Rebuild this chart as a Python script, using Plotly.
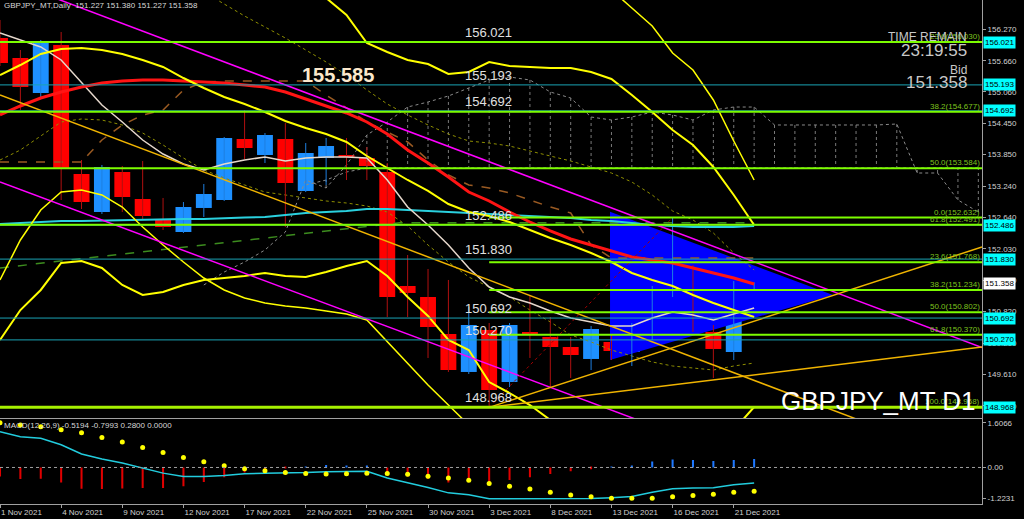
import plotly.graph_objects as go

# ---------------- DATA ----------------
dates = ["1 Nov 2021", "2 Nov 2021", "3 Nov 2021", "4 Nov 2021", "5 Nov 2021", "8 Nov 2021",
         "9 Nov 2021", "10 Nov 2021", "11 Nov 2021", "12 Nov 2021", "15 Nov 2021", "16 Nov 2021",
         "17 Nov 2021", "18 Nov 2021", "19 Nov 2021", "22 Nov 2021", "23 Nov 2021", "24 Nov 2021",
         "25 Nov 2021", "26 Nov 2021", "29 Nov 2021", "30 Nov 2021", "1 Dec 2021", "2 Dec 2021",
         "3 Dec 2021", "6 Dec 2021", "7 Dec 2021", "8 Dec 2021", "9 Dec 2021", "10 Dec 2021",
         "13 Dec 2021", "14 Dec 2021", "15 Dec 2021", "16 Dec 2021", "17 Dec 2021", "20 Dec 2021",
         "21 Dec 2021", "22 Dec 2021"]

open_ = [156.098, 155.712, 155.037, 155.963, 153.473, 152.739, 153.512, 152.990, 152.604, 152.353,
         152.817, 152.971, 154.149, 153.840, 154.149, 153.145, 153.782, 153.840, 153.782, 153.512,
         151.311, 151.098, 150.384, 149.651, 150.461, 149.457, 150.423, 150.326, 150.133, 149.902,
         150.230, 150.037, 150.403, 151.137, 151.388, 150.423, 150.037, 151.227]
high = [156.446, 155.867, 156.060, 156.214, 153.743, 153.647, 153.627, 153.724, 153.010, 152.932,
        153.280, 154.187, 154.708, 154.264, 154.457, 154.071, 154.168, 154.168, 153.994, 153.685,
        151.909, 151.639, 151.427, 150.905, 150.596, 150.596, 151.137, 150.712, 150.326, 150.539,
        150.365, 150.596, 151.311, 152.632, 151.716, 150.558, 151.407, 151.380]
low = [155.558, 154.708, 154.940, 152.971, 152.797, 152.701, 152.739, 152.585, 152.392, 152.334,
       152.643, 152.952, 153.763, 153.685, 152.450, 153.125, 153.261, 153.357, 153.357, 150.712,
       150.712, 149.921, 149.651, 149.612, 148.968, 149.361, 149.921, 149.361, 149.535, 149.689,
       149.882, 149.766, 150.268, 151.098, 150.423, 149.535, 149.882, 151.227]
close = [155.616, 155.152, 156.021, 153.569, 152.932, 153.608, 153.029, 152.662, 152.450, 152.836,
         153.087, 154.168, 153.975, 154.226, 153.299, 153.878, 154.013, 153.801, 153.627, 151.098,
         151.176, 150.519, 149.689, 150.558, 149.303, 150.558, 150.384, 150.133, 149.979, 150.481,
         150.056, 150.481, 151.272, 151.485, 150.519, 150.095, 151.369, 151.358]

red_ma = [154.612, 154.786, 154.940, 155.056, 155.152, 155.230, 155.268, 155.288, 155.288, 155.268,
          155.249, 155.230, 155.191, 155.152, 155.056, 154.921, 154.786, 154.651, 154.477, 154.245,
          153.936, 153.685, 153.415, 153.125, 152.952, 152.739, 152.546, 152.373, 152.218, 152.102,
          151.986, 151.871, 151.813, 151.755, 151.658, 151.562, 151.465, 151.349]
white_ma = [156.195, 156.060, 155.925, 155.674, 155.249, 154.805, 154.477, 154.129, 153.859, 153.666,
            153.550, 153.666, 153.743, 153.801, 153.724, 153.782, 153.801, 153.801, 153.782, 153.357,
            152.836, 152.488, 152.102, 151.658, 151.291, 151.098, 150.983, 150.828, 150.693, 150.616,
            150.539, 150.539, 150.693, 150.809, 150.751, 150.654, 150.770, 150.886]
cyan_ma = [152.508, 152.527, 152.546, 152.566, 152.566, 152.575, 152.585, 152.585, 152.595, 152.604,
           152.604, 152.624, 152.633, 152.643, 152.681, 152.720, 152.739, 152.759, 152.797, 152.797,
           152.778, 152.759, 152.739, 152.720, 152.701, 152.681, 152.662, 152.643, 152.624, 152.585,
           152.566, 152.527, 152.488, 152.469, 152.450, 152.450, 152.450, 152.469]
yellow_mid = [155.384, 155.577, 155.790, 155.886, 155.905, 155.867, 155.790, 155.674, 155.539, 155.326,
              155.133, 154.959, 154.824, 154.670, 154.496, 154.361, 154.245, 154.091, 153.820, 153.589,
              153.357, 153.145, 152.894, 152.739, 152.662, 152.546, 152.392, 152.237, 152.102, 151.948,
              151.774, 151.562, 151.427, 151.311, 151.137, 150.983, 150.847, 150.712]
yellow_up = [157.797, 157.894, 157.990, 158.029, 157.990, 157.894, 157.797, 157.701, 157.604, 157.566,
             157.527, 157.488, 157.411, 157.315, 157.179, 157.025, 156.871, 156.542, 156.002, 155.828,
             155.674, 155.596, 155.403, 155.442, 155.635, 155.558, 155.539, 155.519, 155.519, 155.442,
             155.307, 154.998, 154.670, 154.322, 154.033, 153.608, 153.068, 152.488]
yellow_low1 = [151.427, 152.199, 152.778, 153.125, 153.164, 153.068, 152.836, 152.450, 152.102, 151.774,
               151.465, 151.234, 151.079, 150.983, 150.925, 150.886, 150.828, 150.770, 150.654, 150.230,
               149.824, 149.400, 149.013, 148.627, 148.340, 148.250, 148.200, 148.200, 148.200, 148.250,
               148.300, 148.350, 148.400, 148.450, 148.500, 148.550, 148.600, 148.650]
yellow_low2 = [150.268, 150.847, 151.234, 151.755, 151.793, 151.658, 151.330, 151.137, 151.195, 151.330,
               151.427, 151.465, 151.504, 151.562, 151.504, 151.485, 151.581, 151.697, 151.793, 151.504,
               151.098, 150.732, 150.268, 150.075, 149.457, 149.245, 149.013, 148.724, 148.550, 148.450,
               148.400, 148.380, 148.380, 148.400, 148.450, 148.500, 148.531, 148.975]
thin_yellow_start = 29
thin_yellow = [157.411, 157.025, 156.678, 156.330, 155.809, 155.481, 154.902, 154.110, 153.357]
olive_up_start = 10
olive_up = [156.986, 156.755, 156.523, 156.311, 156.098, 155.867, 155.635, 155.384, 155.095, 154.824,
            154.612, 154.419, 154.245, 154.110, 154.071, 154.013, 153.917, 153.820, 153.724, 153.608,
            153.492, 153.318, 153.068, 152.759, 152.585, 152.334, 151.948, 151.620]
olive_low = [153.743, 153.936, 154.207, 154.477, 154.535, 154.515, 154.419, 154.264, 154.033, 153.782,
             153.550, 153.396, 153.261, 153.125, 153.068, 153.010, 152.952, 152.913, 152.855, 152.739,
             152.469, 152.102, 151.774, 151.485, 151.291, 151.098, 150.847, 150.616, 150.365, 150.230,
             150.075, 149.959, 149.844, 149.766, 149.728, 149.689, 149.766, 149.824]
kijun = [153.705, 153.705, 153.705, 153.705, 153.705, 154.129, 154.419, 154.612, 154.708, 155.095,
         155.249, 155.268, 155.268, 155.268, 155.268, 155.268, 154.998, 154.747, 154.477, 154.284,
         154.091, 153.743, 153.454, 153.261, 153.203, 153.106, 152.971, 152.836, 152.720, 152.102,
         151.851, 151.851, 151.851, 151.851, 151.851, 151.851, 151.851, 151.851]
span_a_start = 10
span_a = [151.330, 151.581, 151.774, 152.006, 152.353, 153.357, 153.203, 153.647, 154.226, 154.477,
          154.766, 154.863, 154.979, 155.133, 155.288, 155.346, 155.288, 155.056, 154.940, 154.573,
          154.515, 154.573, 154.670, 154.612, 154.515, 154.708, 154.766, 154.766, 154.419, 154.419,
          154.419, 154.419, 154.419, 154.419, 154.438, 153.492, 153.492, 152.971, 152.739]
span_b_start = 15
span_b = [153.261, 153.357, 153.511, 153.589, 153.589, 153.589, 153.589, 153.589, 153.589, 153.589,
          153.589, 153.589, 153.589, 153.589, 153.589, 153.589, 153.589, 153.589, 153.589, 153.589,
          153.589, 153.589, 153.589, 153.589, 153.589, 153.589, 153.589, 153.589, 153.589, 153.589,
          153.589, 153.589, 153.589, 153.589]

# trend lines (bar index, price)
magenta_hi_x, magenta_hi_p = [0, 48.18], [157.27, 150.12]
magenta_lo_x, magenta_lo_p = [0, 33], [153.318, 148.474]
gold1_x, gold1_p = [0, 42.5], [155.00, 148.67]
gold2_x, gold2_p = [24, 48.18], [148.968, 152.064]
gold3_x, gold3_p = [24, 48.18], [148.968, 150.133]
fib_diag_x, fib_diag_p = [24, 33], [148.968, 152.632]
green_dash_x, green_dash_p = [0, 19.6, 37], [151.66, 152.53, 152.53]
triangle_x, triangle_p = [29.93, 29.93, 40.87], [152.745, 149.882, 151.137]

# horizontal levels
green_full = [156.021, 154.677, 153.584, 152.491]
green_thick = 148.968
fib_start = 24
fib_partial = [152.632, 151.768, 151.234, 150.802, 150.370]
teal_levels = [155.193, 154.692, 152.486, 151.830, 150.692, 150.270]
fib_labels = [("23.6(156.030)", 156.030), ("38.2(154.677)", 154.677), ("50.0(153.584)", 153.584),
              ("0.0(152.632)", 152.632), ("61.8(152.491)", 152.491), ("23.6(151.768)", 151.768),
              ("38.2(151.234)", 151.234), ("50.0(150.802)", 150.802), ("61.8(150.370)", 150.370),
              ("100.0(148.968)", 148.968)]
line_labels = [156.021, 155.193, 154.692, 152.486, 151.830, 150.692, 150.270, 148.968]
bid_price = 151.358
high_mark = 155.585

price_ticks = [156.270, 155.660, 155.060, 154.450, 153.850, 153.240, 152.640, 152.030,
               151.420, 150.820, 150.210, 149.610, 149.000]

# MACD panel
macd = [1.20, 1.03, 0.98, 0.76, 0.45, 0.28, 0.15, -0.02, -0.19, -0.30, -0.30, -0.27, -0.21, -0.19,
        -0.19, -0.17, -0.14, -0.14, -0.13, -0.35, -0.50, -0.67, -0.85, -0.91, -1.05, -1.05, -1.05,
        -1.05, -1.05, -1.04, -1.01, -0.97, -0.83, -0.71, -0.69, -0.68, -0.58, -0.5194]
signal = [1.50, 1.42, 1.36, 1.26, 1.16, 1.00, 0.85, 0.67, 0.50, 0.33, 0.19, 0.06, -0.04, -0.11,
          -0.17, -0.20, -0.22, -0.21, -0.19, -0.20, -0.23, -0.29, -0.35, -0.43, -0.54, -0.63, -0.72,
          -0.83, -0.92, -0.98, -1.03, -1.03, -1.03, -0.98, -0.94, -0.90, -0.83, -0.7993]
hist = [-0.30, -0.39, -0.38, -0.50, -0.71, -0.72, -0.70, -0.69, -0.69, -0.63, -0.49, -0.33, -0.17,
        -0.08, -0.02, 0.03, 0.08, 0.07, 0.06, -0.18, -0.30, -0.38, -0.50, -0.48, -0.51, -0.42, -0.33,
        -0.22, -0.13, -0.06, 0.02, 0.06, 0.20, 0.27, 0.25, 0.22, 0.25, 0.28]
macd_range = [-1.2231, 1.6066]
macd_tick_pos = [1.49, 0.0, -1.04]
macd_tick_text = ["1.6066", "0.00", "-1.2231"]

# ---------------- FIGURE ----------------
FONT = "Liberation Sans"
X_RANGE = [0, 48.18]
Y_RANGE = [148.762, 156.832]
n = len(dates)
xs = list(range(n))

fig = go.Figure()

def line(x, y, color, width, dash="solid", xa="x", ya="y"):
    fig.add_trace(go.Scatter(x=x, y=y, mode="lines", xaxis=xa, yaxis=ya,
                             line=dict(color=color, width=width, dash=dash),
                             hoverinfo="skip", showlegend=False))

# blue triangle
fig.add_trace(go.Scatter(x=triangle_x, y=triangle_p, fill="toself", mode="lines",
                         fillcolor="#0000FF", line=dict(width=0, color="#0000FF"),
                         hoverinfo="skip", showlegend=False))

# Ichimoku cloud
sa_x = [span_a_start + i for i in range(len(span_a))]
sb_x = [span_b_start + i for i in range(len(span_b))]
hx, hy = [], []
for i, b in enumerate(span_b):
    xi = span_b_start + i
    a = span_a[xi - span_a_start]
    hx += [xi, xi, None]
    hy += [a, b, None]
line(hx, hy, "#7A7A7A", 1, "dot")
line(sa_x, span_a, "#8A8A8A", 1, "dot")
line(sb_x, span_b, "#8A8A8A", 1, "dot")

# olive dotted bands
line([olive_up_start + i for i in range(len(olive_up))], olive_up, "#8F8F00", 1, "dot")
line(xs, olive_low, "#8F8F00", 1, "dot")

# dashed lines
line(xs, kijun, "#9A5A22", 1.5, "dash")
line(green_dash_x, green_dash_p, "#3C8C1E", 1.5, "dash")

# candles
wick_bull_x, wick_bull_y, wick_bear_x, wick_bear_y = [], [], [], []
bull_x, bull_base, bull_h, bear_x, bear_base, bear_h = [], [], [], [], [], []
for i in xs:
    if close[i] >= open_[i]:
        wick_bull_x += [i, i, None]; wick_bull_y += [low[i], high[i], None]
        bull_x.append(i); bull_base.append(open_[i]); bull_h.append(max(close[i] - open_[i], 0.02))
    else:
        wick_bear_x += [i, i, None]; wick_bear_y += [low[i], high[i], None]
        bear_x.append(i); bear_base.append(close[i]); bear_h.append(max(open_[i] - close[i], 0.02))
line(wick_bull_x, wick_bull_y, "#1E7FE0", 1)
line(wick_bear_x, wick_bear_y, "#B01010", 1)
fig.add_trace(go.Bar(x=bull_x, y=bull_h, base=bull_base, width=0.78, marker=dict(color="#1E90FF", line=dict(width=0)),
                     hoverinfo="skip", showlegend=False))
fig.add_trace(go.Bar(x=bear_x, y=bear_h, base=bear_base, width=0.78, marker=dict(color="#FF0000", line=dict(width=0)),
                     hoverinfo="skip", showlegend=False))

# moving averages / bands
line(xs, cyan_ma, "#2AD0DE", 2)
line(xs, white_ma, "#E6D8CC", 1.5)
line(xs, red_ma, "#FF1414", 3)
line(xs, yellow_up, "#FFFF00", 2)
line(xs, yellow_mid, "#FFFF00", 2)
line(xs, yellow_low1, "#FFFF00", 1.5)
line(xs, yellow_low2, "#FFFF00", 2)
line([thin_yellow_start + i for i in range(len(thin_yellow))], thin_yellow, "#FFFF00", 1.5)

# trend lines
line(magenta_hi_x, magenta_hi_p, "#FF00FF", 1.5)
line(magenta_lo_x, magenta_lo_p, "#FF00FF", 1.5)
line(gold1_x, gold1_p, "#F0B400", 1.5)
line(gold2_x, gold2_p, "#F0B400", 1.5)
line(gold3_x, gold3_p, "#F0B400", 1.5)
line(fib_diag_x, fib_diag_p, "#A00000", 1, "dot")

# MACD panel
pos_x = [i for i in xs if hist[i] >= 0]
neg_x = [i for i in xs if hist[i] < 0]
fig.add_trace(go.Bar(x=pos_x, y=[hist[i] for i in pos_x], width=0.1, marker=dict(color="#1E78FF", line=dict(width=0)),
                     xaxis="x2", yaxis="y2", hoverinfo="skip", showlegend=False))
fig.add_trace(go.Bar(x=neg_x, y=[hist[i] for i in neg_x], width=0.1, marker=dict(color="#E00000", line=dict(width=0)),
                     xaxis="x2", yaxis="y2", hoverinfo="skip", showlegend=False))
line(xs, macd, "#22CCDD", 1.5, xa="x2", ya="y2")
fig.add_trace(go.Scatter(x=xs, y=signal, mode="markers", xaxis="x2", yaxis="y2",
                         marker=dict(color="#FFFF00", size=5), hoverinfo="skip", showlegend=False))

# ---------------- SHAPES ----------------
shapes = []
for lv in teal_levels:
    shapes.append(dict(type="line", xref="x domain", x0=0, x1=1, yref="y", y0=lv, y1=lv,
                       line=dict(color="#1AA3B4", width=1)))
for lv in green_full:
    shapes.append(dict(type="line", xref="x domain", x0=0, x1=1, yref="y", y0=lv, y1=lv,
                       line=dict(color="#7CFC00", width=2)))
for lv in fib_partial:
    shapes.append(dict(type="line", xref="x", x0=fib_start, x1=X_RANGE[1], yref="y", y0=lv, y1=lv,
                       line=dict(color="#7CFC00", width=2)))
shapes.append(dict(type="line", xref="x domain", x0=0, x1=1, yref="y", y0=green_thick, y1=green_thick,
                   line=dict(color="#A6F000", width=3)))
shapes.append(dict(type="line", xref="x2 domain", x0=0, x1=1, yref="y2", y0=0, y1=0,
                   line=dict(color="#A0A0A0", width=1, dash="dot")))

# ---------------- ANNOTATIONS ----------------
ann = []
for txt, lv in fib_labels:
    ann.append(dict(xref="paper", x=0.999, xanchor="right", yref="y", y=lv, yanchor="bottom",
                    text=txt, showarrow=False, font=dict(family=FONT, size=8, color="#7DC21E"),
                    borderpad=0))
for lv in line_labels:
    ann.append(dict(xref="x", x=22.72, xanchor="left", yref="y", y=lv, yanchor="bottom",
                    text=f"{lv:.3f}", showarrow=False, font=dict(family=FONT, size=13, color="#E0E0E0"),
                    borderpad=1))
    ann.append(dict(xref="paper", x=1, xanchor="left", xshift=1, yref="y", y=lv, yanchor="middle",
                    text=f"{lv:.3f}", showarrow=False, bgcolor="#00FFFF",
                    font=dict(family=FONT, size=8, color="#000000"), borderpad=1))
ann.append(dict(xref="paper", x=1, xanchor="left", xshift=1, yref="y", y=bid_price, yanchor="middle",
                text=f"{bid_price:.3f}", showarrow=False, bgcolor="#FFFFFF",
                font=dict(family=FONT, size=8, color="#000000"), borderpad=1))
ann.append(dict(xref="x", x=14.72, xanchor="left", yref="y", y=high_mark, yshift=-10, yanchor="middle",
                text=f"<b>{high_mark:.3f}</b>", showarrow=False,
                font=dict(family=FONT, size=20, color="#FBE8CC")))
ann.append(dict(xref="paper", x=0.002, xanchor="left", yref="paper", y=0.990, yanchor="middle",
                text=f"GBPJPY_MT,Daily  {open_[-1]:.3f} {high[-1]:.3f} {low[-1]:.3f} {close[-1]:.3f}",
                showarrow=False, font=dict(family=FONT, size=8, color="#D8D8D8")))
ann.append(dict(xref="paper", x=0.002, xanchor="left", yref="paper", y=0.1567, yanchor="middle",
                text=f"MACD(12,26,9) {macd[-1]:.4f} {signal[-1]:.4f} {hist[-1]:.4f} 0.0000",
                showarrow=False, font=dict(family=FONT, size=8, color="#D8D8D8")))
for txt, yp, sz in [("TIME REMAIN", 0.927, 12), ("23:19:55", 0.900, 17), ("Bid", 0.861, 12),
                    (f"{bid_price:.3f}", 0.836, 17)]:
    ann.append(dict(xref="paper", x=0.9867, xanchor="right", yref="paper", y=yp, yanchor="middle",
                    text=txt, showarrow=False, font=dict(family=FONT, size=sz, color="#C8C8C8")))
ann.append(dict(xref="paper", x=0.996, xanchor="right", yref="paper", y=0.2044, yanchor="middle",
                text="GBPJPY_MT D1", showarrow=False, font=dict(family=FONT, size=26, color="#FFFFFF")))

tick_idx = xs[::3]
fig.update_layout(
    width=1024, height=519, autosize=False,
    margin=dict(l=0, r=42, t=0, b=15),
    paper_bgcolor="#000000", plot_bgcolor="#000000",
    barmode="overlay", showlegend=False, hovermode=False,
    shapes=shapes, annotations=ann,
    font=dict(family=FONT, color="#D0D0D0", size=8),
    xaxis=dict(domain=[0, 1], range=X_RANGE, anchor="y", showticklabels=False, showgrid=False,
               zeroline=False, showline=True, linecolor="#A0A0A0", linewidth=1, ticks=""),
    yaxis=dict(domain=[0.1706, 1], range=Y_RANGE, side="right", anchor="x", showgrid=False, zeroline=False,
               showline=True, linecolor="#A0A0A0", linewidth=1, ticks="outside", ticklen=3,
               tickcolor="#A0A0A0", tickmode="array", tickvals=price_ticks,
               ticktext=[f"{v:.3f}" for v in price_ticks],
               tickfont=dict(family=FONT, size=8, color="#D0D0D0")),
    xaxis2=dict(domain=[0, 1], range=X_RANGE, anchor="y2", showgrid=False, zeroline=False,
                showline=True, mirror=True, linecolor="#A0A0A0", linewidth=1, ticks="outside",
                ticklen=3, tickcolor="#A0A0A0", tickmode="array", tickvals=tick_idx,
                ticktext=[dates[i] for i in tick_idx], ticklabelposition="outside right",
                tickfont=dict(family=FONT, size=8, color="#D0D0D0")),
    yaxis2=dict(domain=[0, 0.1677], range=macd_range, side="right", anchor="x2", showgrid=False,
                zeroline=False, showline=True, linecolor="#A0A0A0", linewidth=1, ticks="outside",
                ticklen=3, tickcolor="#A0A0A0", tickmode="array", tickvals=macd_tick_pos,
                ticktext=macd_tick_text, tickfont=dict(family=FONT, size=8, color="#D0D0D0")),
)

fig.write_html("out.html", config={"displayModeBar": False},
               post_script="document.body.style.margin='0';document.body.style.overflow='hidden';"
                           "document.body.style.background='#000';")
